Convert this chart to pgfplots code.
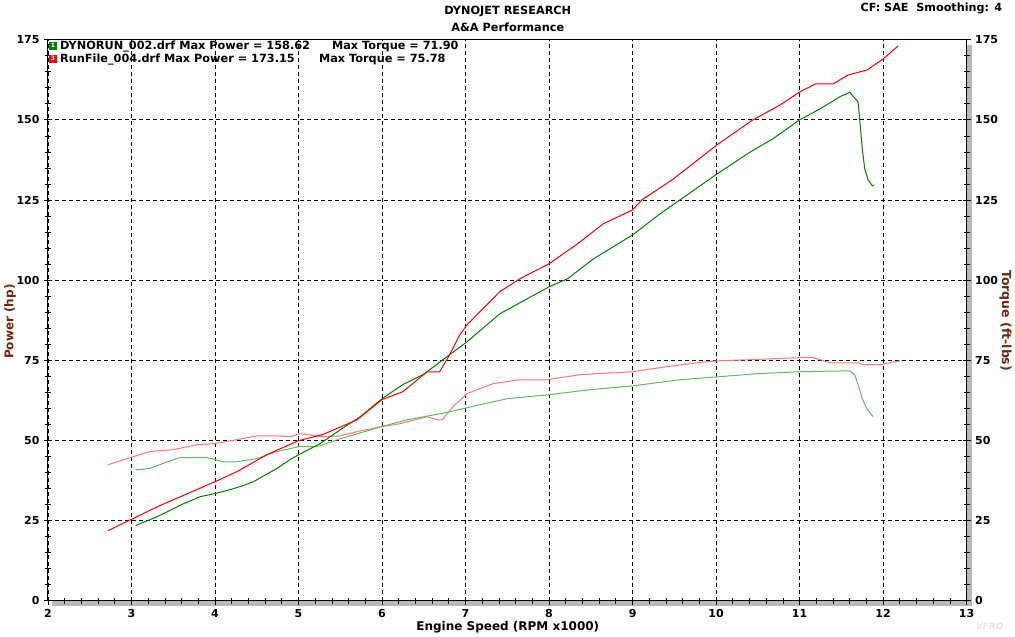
\documentclass[border=0pt]{standalone}
\usepackage{pgfplots}
\pgfplotsset{compat=1.18}
\usepackage{fontspec}
\setmainfont{DejaVu Sans}
\definecolor{labbrown}{RGB}{110,40,10}
\definecolor{gpow}{RGB}{0,128,0}
\definecolor{rpow}{RGB}{255,0,0}
\definecolor{gtrq}{RGB}{100,185,100}
\definecolor{rtrq}{RGB}{255,120,120}
\begin{document}
\begin{tikzpicture}[x=1pt,y=1pt]
\fill[white] (0,0) rectangle (1015,633);
% shadow bars
\fill[gray!55] (52,28.5) rectangle (972,34);
\fill[gray!55] (967,28.5) rectangle (972,590);
\begin{axis}[
  at={(48pt,34pt)}, anchor=south west,
  scale only axis, width=919pt, height=561pt,
  xmin=2, xmax=13, ymin=0, ymax=175,
  xtick={2,...,13}, ytick={0,25,...,175},
  minor x tick num=4, minor y tick num=4,
  xtick pos=bottom, ytick pos=left,
  tick align=center,
  major tick length=8pt, minor tick length=6pt,
  every tick/.style={black, line width=0.8pt},
  grid=major,
  major grid style={black, line width=0.8pt, dash pattern=on 4pt off 3pt},
  axis line style={black, line width=1pt},
  /pgf/number format/assume math mode=true,
  tick label style={font=\bfseries\fontsize{11}{13}\selectfont},
  yticklabel style={xshift=-1pt},
  xticklabel style={yshift=-1pt},
  clip=true,
]
% Red torque
\addplot[rtrq, line width=1pt] coordinates {
(2.72,42.4)(3.02,44.9)(3.22,46.5)(3.50,47.1)(3.78,48.6)(4.0,49.0)(4.26,50.2)(4.50,51.4)(4.74,51.4)(4.9,51.1)(5.02,52.1)(5.29,51.1)(5.5,51.4)(5.70,52.7)(6.0,54.3)(6.22,55.2)(6.54,57.4)(6.66,56.4)(6.72,56.4)(6.85,60.5)(7.02,64.6)(7.14,65.8)(7.33,67.7)(7.65,68.9)(7.98,68.9)(8.37,70.5)(9.0,71.4)(9.41,73.0)(9.77,74.2)(10.01,74.8)(10.44,75.2)(11.0,75.8)(11.16,75.8)(11.37,74.2)(11.69,74.2)(11.77,73.6)(11.96,73.6)(12.08,74.2)(12.2,74.8)
};
% Green torque
\addplot[gtrq, line width=1pt] coordinates {
(3.05,40.8)(3.22,41.2)(3.43,43.3)(3.58,44.6)(3.90,44.6)(4.0,44.0)(4.10,43.3)(4.26,43.3)(4.50,44.3)(4.74,46.5)(5.0,48.0)(5.14,48.0)(5.26,48.3)(5.5,50.5)(6.0,54.3)(6.30,56.4)(6.57,57.7)(6.81,58.9)(7.17,61.1)(7.50,63.0)(7.98,64.2)(8.49,65.8)(9.0,67.0)(9.57,68.9)(10.01,69.8)(10.49,70.8)(11.0,71.4)(11.60,71.7)(11.66,70.5)(11.70,67.4)(11.75,63.0)(11.81,59.6)(11.88,57.4)
};
% Green power
\addplot[gpow, line width=1pt] coordinates {
(3.05,23.4)(3.31,26.2)(3.62,30.2)(3.82,32.4)(4.0,33.4)(4.18,34.6)(4.34,35.9)(4.46,37.1)(4.74,41.2)(4.90,44.0)(5.0,45.5)(5.26,49.0)(5.5,53.3)(5.74,57.4)(6.0,63.0)(6.25,67.4)(6.49,70.5)(6.81,76.7)(7.02,80.8)(7.41,89.5)(7.74,94.2)(8.0,97.9)(8.22,100.4)(8.53,106.6)(9.0,114.1)(9.33,120.7)(10.01,133.1)(10.41,140.0)(10.68,144.1)(11.0,150.0)(11.25,153.5)(11.48,157.2)(11.6,158.6)(11.70,155.6)(11.72,150.0)(11.75,141.0)(11.78,134.7)(11.82,131.3)(11.87,129.4)(11.89,129.7)
};
% Red power
\addplot[rpow, line width=1pt] coordinates {
(2.72,21.8)(2.85,23.5)(3.02,25.6)(3.31,29.3)(3.70,33.7)(4.0,37.1)(4.26,40.2)(4.62,45.5)(5.0,49.9)(5.29,51.8)(5.70,56.4)(6.0,62.7)(6.25,65.2)(6.54,71.4)(6.69,71.4)(6.81,76.7)(6.93,82.9)(7.02,86.1)(7.17,90.1)(7.29,93.2)(7.41,96.4)(7.65,100.4)(8.0,105.1)(8.34,111.3)(8.65,117.6)(9.0,121.9)(9.11,125.0)(9.49,131.6)(10.01,142.2)(10.44,150.0)(10.77,154.7)(11.0,158.7)(11.19,161.2)(11.40,161.2)(11.58,164.0)(11.81,165.6)(12.0,169.0)(12.18,173.1)
};
\end{axis}
\begin{axis}[
  at={(48pt,34pt)}, anchor=south west,
  scale only axis, width=919pt, height=561pt,
  xmin=2, xmax=13, ymin=0, ymax=175,
  axis x line=none, axis y line*=right,
  ytick={0,25,...,175}, minor y tick num=4,
  tick align=center,
  major tick length=8pt, minor tick length=6pt,
  every tick/.style={black, line width=0.8pt},
  axis line style={black, line width=1pt},
  /pgf/number format/assume math mode=true,
  tick label style={font=\bfseries\fontsize{11}{13}\selectfont},
  yticklabel style={xshift=1pt},
]
\end{axis}
% titles
\node[font=\bfseries\fontsize{11.3}{13}\selectfont] at (508,623) {DYNOJET RESEARCH};
\node[font=\bfseries\fontsize{11.3}{13}\selectfont] at (508,607) {A\&A Performance};
\node[font=\bfseries\fontsize{11.2}{13}\selectfont, anchor=east] at (1006,626) {CF: SAE\ \ Smoothing: 4};
% axis labels
\node[font=\bfseries\fontsize{12}{14}\selectfont, text=labbrown, rotate=90] at (10,313) {Power (hp)};
\node[font=\bfseries\fontsize{12.5}{14}\selectfont, text=labbrown, rotate=-90] at (1006,314) {Torque (ft-lbs)};
\node[font=\bfseries\fontsize{12}{14}\selectfont] at (508,7) {Engine Speed (RPM x1000)};
% legend
\fill[gpow] (49,585) rectangle (57,593);
\node[font=\bfseries\fontsize{6}{6}\selectfont, text=white, inner sep=0pt] at (53,589) {1};
\fill[rpow] (49,572) rectangle (57,580);
\node[font=\bfseries\fontsize{6}{6}\selectfont, text=white, inner sep=0pt] at (53,576) {3};
\node[font=\bfseries\fontsize{11.3}{13}\selectfont, anchor=west, inner sep=0pt] at (60,588.5) {DYNORUN\_002.drf Max Power = 158.62};
\node[font=\bfseries\fontsize{11.3}{13}\selectfont, anchor=west, inner sep=0pt] at (332,588.5) {Max Torque = 71.90};
\node[font=\bfseries\fontsize{11.3}{13}\selectfont, anchor=west, inner sep=0pt] at (60,575) {RunFile\_004.drf Max Power = 173.15};
\node[font=\bfseries\fontsize{11.3}{13}\selectfont, anchor=west, inner sep=0pt] at (319,575) {Max Torque = 75.78};
% watermark
\node[font=\bfseries\itshape\fontsize{9}{10}\selectfont, text=gray!20] at (990,8) {VFRD};
\end{tikzpicture}
\end{document}
